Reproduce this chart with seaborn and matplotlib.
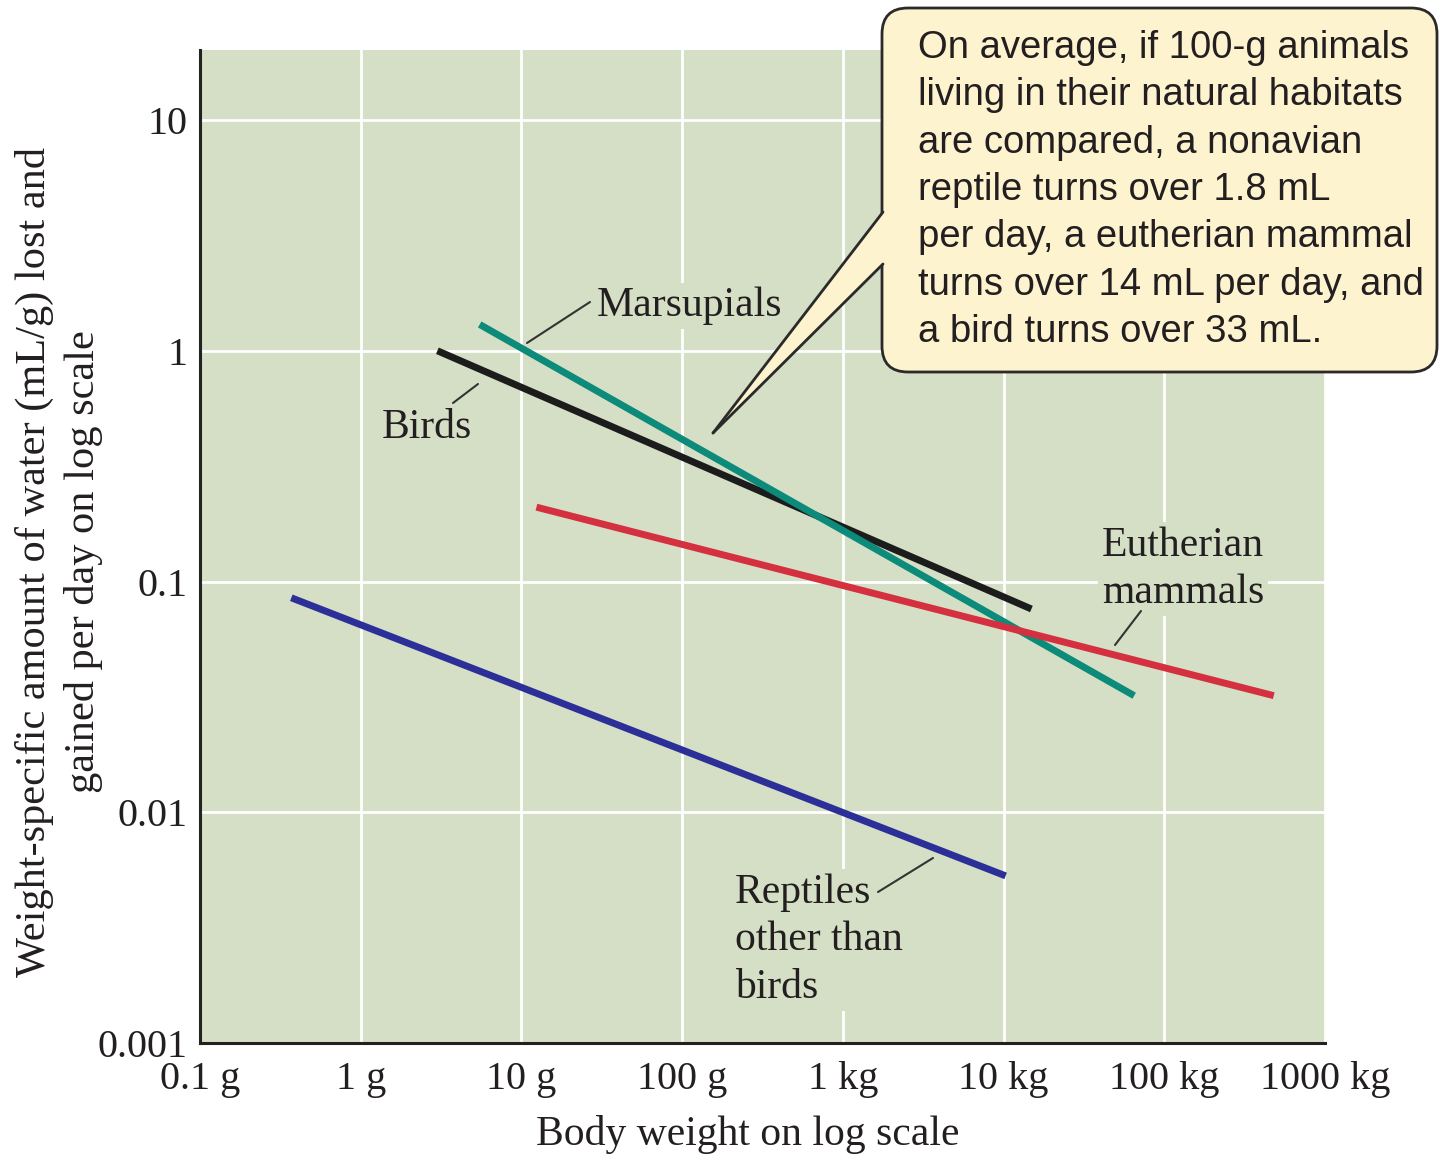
import numpy as np
import pandas as pd
import matplotlib
matplotlib.use("Agg")
import matplotlib.pyplot as plt
import seaborn as sns
from matplotlib.patches import FancyBboxPatch, Polygon
from matplotlib.lines import Line2D
from matplotlib.transforms import IdentityTransform
from matplotlib.ticker import NullLocator, FixedLocator, FixedFormatter

# ---------------- data ----------------
groups = ["Reptiles other than birds", "Birds", "Marsupials", "Eutherian mammals"]
mass_start_g = [0.37, 3.0, 5.5, 12.4]
mass_end_g = [10300, 14900, 65000, 480000]
water_start = [0.085, 1.0, 1.3, 0.21]
water_end = [0.0053, 0.076, 0.032, 0.032]
line_colors = ["#2d2f98", "#1c1c1c", "#0c8a7a", "#d4303f"]

x_ticks = [0.1, 1, 10, 100, 1e3, 1e4, 1e5, 1e6]
x_tick_labels = ["0.1 g", "1 g", "10 g", "100 g", "1 kg", "10 kg", "100 kg", "1000 kg"]
y_ticks = [0.001, 0.01, 0.1, 1, 10]
y_tick_labels = ["0.001", "0.01", "0.1", "1", "10"]

x_label = "Body weight on log scale"
y_label = "Weight-specific amount of water (mL/g) lost and\ngained per day on log scale"
callout_text = ("On average, if 100-g animals\n"
                "living in their natural habitats\n"
                "are compared, a nonavian\n"
                "reptile turns over 1.8 mL\n"
                "per day, a eutherian mammal\n"
                "turns over 14 mL per day, and\n"
                "a bird turns over 33 mL.")

rows = []
for g, x0, x1, y0, y1 in zip(groups, mass_start_g, mass_end_g, water_start, water_end):
    rows.append({"group": g, "mass": x0, "water": y0})
    rows.append({"group": g, "mass": x1, "water": y1})
df = pd.DataFrame(rows)

# ---------------- style ----------------
BG = "#d4dfc6"
INK = "#231f20"
sns.set_style("white")
plt.rcParams["font.family"] = ["Liberation Serif", "DejaVu Serif"]
plt.rcParams["text.color"] = INK
plt.rcParams["axes.labelcolor"] = INK
plt.rcParams["xtick.color"] = INK
plt.rcParams["ytick.color"] = INK

W, H = 1439, 1159
fig = plt.figure(figsize=(W / 100, H / 100), dpi=100)
fig.patch.set_facecolor("white")
ax = fig.add_axes([200 / W, 1 - 1043 / H, 1125 / W, (1043 - 50) / H])
ax.set_facecolor(BG)

sns.lineplot(data=df, x="mass", y="water", hue="group", hue_order=groups,
             palette=line_colors, linewidth=5, legend=False, errorbar=None,
             solid_capstyle="butt", ax=ax)

ax.set_xscale("log")
ax.set_yscale("log")
ax.set_xlim(0.1, 1e6)
ax.set_ylim(1e-3, 10 ** 1.3034)

ax.xaxis.set_major_locator(FixedLocator(x_ticks))
ax.xaxis.set_major_formatter(FixedFormatter(x_tick_labels))
ax.yaxis.set_major_locator(FixedLocator(y_ticks))
ax.yaxis.set_major_formatter(FixedFormatter(y_tick_labels))
ax.xaxis.set_minor_locator(NullLocator())
ax.yaxis.set_minor_locator(NullLocator())

ax.grid(True, color="white", linewidth=2)
ax.set_axisbelow(True)
ax.tick_params(axis="x", direction="in", length=14, width=2, color="#222222",
               pad=13, labelsize=29)
ax.tick_params(axis="y", direction="in", length=13, width=2, color="#222222",
               pad=9, labelsize=29)
for lbl in ax.get_yticklabels():
    lbl.set_va("center_baseline")
for s in ["top", "right"]:
    ax.spines[s].set_visible(False)
for s in ["left", "bottom"]:
    ax.spines[s].set_color("#222222")
    ax.spines[s].set_linewidth(2.2)

ax.set_xlabel(x_label, fontsize=30, va="center")
ax.xaxis.set_label_coords((748 - 200) / 1125, (1043 - 1134) / 993)
ax.set_ylabel(y_label, fontsize=30.5, va="center", ha="center", linespacing=1.35)
ax.yaxis.set_label_coords((59 - 200) / 1125, (1043 - 562) / 993)

# ---------------- series labels with leader lines (pixel coords) ----------------
pix = IdentityTransform()
def P(px, py):
    return px, H - py

label_specs = [
    ("Marsupials", 597, 306, "left"),
    ("Birds", 427, 428, "center"),
    ("Eutherian\nmammals", 1183, 569, "center"),
    ("Reptiles\nother than\nbirds", 735, 940, "left"),
]
for txt, px, py, ha in label_specs:
    ax.text(*P(px, py), txt, transform=pix, fontsize=30, ha=ha, va="center",
            linespacing=1.3, zorder=4,
            bbox=dict(facecolor=BG, edgecolor="none", pad=3))

leaders = [((527, 343), (590, 302)),
           ((453, 403), (478, 384)),
           ((1115, 645), (1141, 611)),
           ((878, 892), (933, 858))]
for (a, b) in leaders:
    ax.add_line(Line2D([a[0], b[0]], [H - a[1], H - b[1]], transform=pix,
                       color="#333333", linewidth=1.5, zorder=5))

# ---------------- callout box ----------------
box = FancyBboxPatch((882, H - 372), 1437 - 882, 372 - 8,
                     boxstyle="round,pad=0,rounding_size=26",
                     transform=pix, facecolor="#fdf3cf", edgecolor="#2a2a2a",
                     linewidth=2, zorder=10)
fig.add_artist(box)
tip = (713, 433)
w_top, w_bot = 212, 264
wedge = Polygon([P(896, w_top), P(884, w_top), P(*tip), P(884, w_bot), P(896, w_bot)],
                closed=True, transform=pix, facecolor="#fdf3cf", edgecolor="none",
                zorder=11)
fig.add_artist(wedge)
for yb in (w_top, w_bot):
    fig.add_artist(Line2D([883, tip[0]], [H - yb, H - tip[1]], transform=pix,
                          color="#2a2a2a", linewidth=2, zorder=12))
fig.text(918 / W, 1 - 190 / H, callout_text, family=["Liberation Sans", "DejaVu Sans"],
         fontsize=27.5, ha="left", va="center", linespacing=1.41, zorder=13, color=INK)

fig.savefig("out.png", dpi=100)
